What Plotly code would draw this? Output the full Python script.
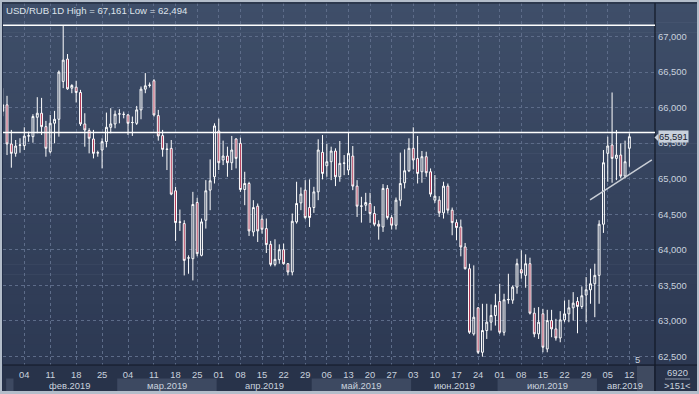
import plotly.graph_objects as go

# ---------------- data ----------------
opens = [65950, 66040, 65489, 65357, 65470, 65465, 65600, 65592, 65865, 65922,
         65733, 65380, 65781, 65837, 66370, 66685, 66275, 66289, 66214, 65771,
         65677, 65560, 65362, 65404, 65522, 65724, 65771, 65910, 65908, 65898,
         65790, 65780, 65969, 66261, 66313, 66379, 65889, 65607, 65418, 65427,
         64830, 64392, 64368, 63883, 63874, 64665, 63921, 64415, 64839, 65027,
         65672, 65263, 65319, 65225, 65560, 65498, 64848, 64933, 64251, 64613,
         64430, 64298, 64076, 63794, 63860, 64001, 63803, 63686, 64392, 64660,
         64839, 64594, 64594, 64815, 65371, 65183, 65239, 65390, 65027, 65216,
         65122, 65319, 64896, 64613, 64627, 64651, 64510, 64359, 64321, 64863,
         64453, 64345, 64698, 64943, 65112, 65428, 65286, 65098, 65310, 65098,
         64698, 64698, 64519, 64896, 64557, 64382, 64321, 64039, 63733, 62815,
         63182, 62556, 62862, 62980, 63074, 63271, 62838, 63295, 63290, 63474,
         63719, 63639, 63803, 63107, 62815, 63098, 62603, 63003, 62885, 62758,
         63012, 63097, 63182, 63272, 63201, 63362, 63436, 63521, 63639, 64359,
         65357, 65475, 65286, 65333, 65037, 65428]
highs = [66275, 66167, 65687, 65545, 65570, 65724, 65663, 65908, 66148, 66138,
         65814, 65898, 65955, 66524, 67161, 66755, 66331, 66379, 66251, 65922,
         65710, 65687, 65395, 65569, 65931, 65993, 65960, 65979, 65945, 65912,
         65875, 66025, 66298, 66487, 66355, 66402, 65969, 65687, 65498, 65545,
         64886, 64566, 64415, 63921, 64815, 64731, 64439, 64980, 65272, 65780,
         65846, 65536, 65451, 65602, 65569, 65578, 65098, 64957, 64698, 64651,
         64486, 64439, 64124, 64147, 64076, 64086, 63813, 64510, 64957, 64877,
         64980, 64990, 64886, 65555, 65616, 65489, 65451, 65428, 65531, 65333,
         65649, 65460, 64980, 64745, 64801, 64801, 64613, 64415, 64924, 64910,
         64486, 64735, 65367, 65413, 65569, 65724, 65602, 65390, 65380, 65145,
         65051, 64754, 64957, 64933, 64594, 64425, 64425, 64095, 63803, 63780,
         63192, 63239, 63239, 63229, 63380, 63521, 63380, 63662, 63498, 63874,
         63992, 63935, 63888, 63182, 63192, 63168, 63154, 63154, 63027, 63135,
         63286, 63295, 63403, 63333, 63483, 63615, 63733, 63803, 64415, 65404,
         65592, 66214, 65686, 65498, 65536, 65640]
lows = [65880, 65333, 65155, 65310, 65365, 65404, 65520, 65507, 65640, 65616,
        65310, 65357, 65498, 65592, 66275, 66251, 66204, 66073, 65743, 65451,
        65357, 65286, 65310, 65145, 65442, 65640, 65710, 65780, 65850, 65616,
        65602, 65757, 65837, 66204, 66284, 65875, 65536, 65310, 65122, 64768,
        64124, 64265, 63638, 63662, 63568, 63907, 63907, 64298, 64557, 64933,
        65122, 65192, 65027, 65122, 65145, 64815, 64627, 64194, 64189, 64109,
        64227, 63954, 63766, 63766, 63803, 63789, 63639, 63639, 64368, 64557,
        64430, 64321, 64519, 64698, 64990, 65027, 64980, 64896, 64957, 65050,
        65051, 64839, 64462, 64382, 64547, 64378, 64331, 64142, 64251, 64425,
        64284, 64284, 64613, 64863, 65093, 65131, 64933, 64943, 65027, 64745,
        64660, 64462, 64439, 64509, 64204, 64133, 63907, 63720, 62815, 62791,
        62532, 62494, 62744, 62862, 62932, 62815, 62791, 63239, 63239, 63380,
        63592, 63465, 63088, 62768, 62744, 62556, 62556, 62768, 62720, 62697,
        62979, 62979, 63003, 62824, 63168, 62980, 63239, 63050, 63239, 64237,
        64957, 64943, 64980, 65004, 65004, 65169]
closes = [66040, 65489, 65357, 65460, 65475, 65600, 65605, 65875, 65922, 65733,
          65428, 65781, 65837, 66501, 66670, 66265, 66313, 66214, 65771, 65686,
          65569, 65357, 65366, 65522, 65724, 65771, 65908, 65913, 65905, 65780,
          65792, 65969, 66261, 66308, 66318, 65898, 65602, 65413, 65413, 64783,
          64382, 64387, 63850, 63885, 64637, 63945, 64392, 64830, 64971, 65743,
          65225, 65319, 65225, 65404, 65286, 64848, 64933, 64265, 64594, 64265,
          64288, 64072, 63794, 63864, 64001, 63803, 63686, 64401, 64651, 64783,
          64453, 64453, 64815, 65404, 65074, 65239, 65390, 65027, 65216, 65220,
          65357, 64896, 64613, 64615, 64665, 64510, 64359, 64331, 64863, 64453,
          64345, 64698, 64933, 65112, 65428, 65263, 65074, 65310, 65084, 64783,
          64754, 64519, 64896, 64557, 64382, 64312, 64039, 63733, 62838, 63050,
          62556, 62862, 62980, 63074, 63215, 62838, 63295, 63300, 63474, 63803,
          63672, 63803, 63107, 62815, 62980, 62627, 63003, 62885, 62758, 63012,
          63097, 63182, 63248, 63201, 63352, 63436, 63521, 63639, 64359, 65225,
          65461, 65286, 65333, 65037, 65239, 65591]

# weekly tick positions (bar index of each Monday) and their labels
tick_index = [5, 11, 17, 23, 29, 35, 40, 45, 50, 55, 60, 65, 70, 75, 80, 85,
              90, 95, 100, 105, 110, 115, 120, 125, 130, 135, 140, 145]
tick_labels = ["04", "11", "18", "25", "04", "11", "18", "25", "01", "08",
               "15", "22", "29", "06", "13", "20", "27", "03", "10", "17",
               "24", "01", "08", "15", "22", "29", "05", "12"]

month_labels = ["фев.2019", "мар.2019", "апр.2019", "май.2019",
                "июн.2019", "июл.2019", "авг.2019"]
month_label_x = [15.5, 38, 60.5, 83, 104.5, 126, 144]
month_bounds = [-1, 2.5, 26.5, 49.5, 71.5, 94.5, 114.5, 137.5, 152]

price_ticks = [62500, 63000, 63500, 64000, 64500, 65000, 65500, 66000, 66500, 67000]
price_tick_labels = ["62,500", "63,000", "63,500", "64,000", "64,500",
                     "65,000", "65,500", "66,000", "66,500", "67,000"]

high_value = 67161
low_value = 62494
resistance_level = 65650
last_price = 65591
trend_x = [135.9, 150.2]
trend_y = [64701, 65264]

title_text = "USD/RUB 1D High = 67,161 Low = 62,494"

# ---------------- figure ----------------
W, H = 699, 394
ML, MR, MT, MB = 3, 44, 3, 29
PW, PH = W - ML - MR, H - MT - MB


def fx(px):
    return (px - ML) / PW


def fy(py):
    return (H - MB - py) / PH


FONT = "Liberation Sans, Arial, sans-serif"
TXT = "#c9d2de"

fig = go.Figure()
fig.add_trace(go.Candlestick(
    x=list(range(len(opens))), open=opens, high=highs, low=lows, close=closes,
    increasing=dict(line=dict(color="#ffffff", width=1), fillcolor="rgba(0,0,0,0)"),
    decreasing=dict(line=dict(color="#ffffff", width=1), fillcolor="#a81f40"),
    whiskerwidth=0, showlegend=False, hoverinfo="skip",
))

shapes = []
# background gradient (plot area + right price scale)
top_c = (62, 78, 105)
bot_c = (45, 57, 83)
n = 36
y_top, y_bot = 2, H - MB
for i in range(n):
    t = i / (n - 1)
    c = tuple(round(top_c[k] + (bot_c[k] - top_c[k]) * t) for k in range(3))
    a = y_top + (y_bot - y_top) * i / n
    b = y_top + (y_bot - y_top) * (i + 1) / n
    shapes.append(dict(type="rect", xref="paper", yref="paper", layer="below",
                       x0=fx(2), x1=fx(697), y0=fy(b + 0.6), y1=fy(a),
                       fillcolor="rgb(%d,%d,%d)" % c, line=dict(width=0)))
# bottom time strip
shapes.append(dict(type="rect", xref="paper", yref="paper", layer="below",
                   x0=fx(2), x1=fx(697), y0=fy(391), y1=fy(H - MB),
                   fillcolor="#28334a", line=dict(width=0)))
# alternating month bands
for i in range(len(month_bounds) - 1):
    if i % 2 == 0:
        shapes.append(dict(type="rect", xref="x", yref="paper", layer="below",
                           x0=max(month_bounds[i], 0.8), x1=min(month_bounds[i + 1], 150.9),
                           y0=fy(391), y1=fy(378.5),
                           fillcolor="#3d4961", line=dict(width=0)))
# small scroll marker at bottom right
shapes.append(dict(type="rect", xref="paper", yref="paper", layer="below",
                   x0=fx(637), x1=fx(654), y0=fy(391), y1=fy(366),
                   fillcolor="rgba(90,102,125,0.45)", line=dict(width=0)))
# frame lines
shapes.append(dict(type="line", xref="paper", yref="paper", x0=fx(655), x1=fx(655),
                   y0=fy(391), y1=fy(3), line=dict(color="#121826", width=1.2)))
shapes.append(dict(type="line", xref="paper", yref="paper", x0=fx(2), x1=fx(697),
                   y0=fy(365), y1=fy(365), line=dict(color="#121826", width=1.2)))
shapes.append(dict(type="line", xref="paper", yref="paper", x0=fx(2), x1=fx(697),
                   y0=fy(3), y1=fy(3), line=dict(color="#1a2233", width=1.2)))
shapes.append(dict(type="line", xref="paper", yref="paper", x0=fx(2.5), x1=fx(2.5),
                   y0=fy(391), y1=fy(3), line=dict(color="#24304a", width=1)))
shapes.append(dict(type="line", xref="paper", yref="paper", x0=fx(665), x1=fx(690),
                   y0=fy(379), y1=fy(379), line=dict(color="#8a96a8", width=1)))
# horizontal levels
for lvl in (high_value, resistance_level):
    shapes.append(dict(type="line", xref="paper", yref="y", x0=0, x1=1, y0=lvl, y1=lvl,
                       line=dict(color="#ffffff", width=1.5)))
# trend line
shapes.append(dict(type="line", xref="x", yref="y", x0=trend_x[0], x1=trend_x[1],
                   y0=trend_y[0], y1=trend_y[1], line=dict(color="#c9ced6", width=1.5)))
# price pointer triangle
shapes.append(dict(type="path", xref="paper", yref="paper",
                   path="M %f %f L %f %f L %f %f Z" % (fx(654.5), fy(137.5), fx(658.5), fy(133.5),
                                                        fx(658.5), fy(141.5)),
                   fillcolor="#c9d1dc", line=dict(width=0)))

annotations = []
annotations.append(dict(text=title_text, xref="paper", yref="paper", x=fx(4), y=fy(10.5),
                        xanchor="left", yanchor="middle", showarrow=False,
                        font=dict(family=FONT, size=9.6, color="#dde3eb")))
for lab, xm in zip(month_labels, month_label_x):
    annotations.append(dict(text=lab, xref="x", yref="paper", x=xm, y=fy(385),
                            xanchor="center", yanchor="middle", showarrow=False,
                            font=dict(family=FONT, size=9.4, color=TXT)))
annotations.append(dict(text="%s" % f"{last_price:,}", xref="paper", yref="y", x=fx(658), y=last_price,
                        xanchor="left", yanchor="middle", showarrow=False,
                        bgcolor="#c9d1dc", borderpad=0,
                        font=dict(family=FONT, size=9.4, color="#18202c")))
annotations.append(dict(text="5", xref="paper", yref="paper", x=fx(637.5), y=fy(359.5),
                        xanchor="center", yanchor="middle", showarrow=False,
                        font=dict(family=FONT, size=9.4, color=TXT)))
annotations.append(dict(text="6920", xref="paper", yref="paper", x=fx(677.5), y=fy(372.5),
                        xanchor="center", yanchor="middle", showarrow=False,
                        font=dict(family=FONT, size=9.4, color=TXT)))
annotations.append(dict(text="&gt;151&lt;", xref="paper", yref="paper", x=fx(678), y=fy(385),
                        xanchor="center", yanchor="middle", showarrow=False,
                        font=dict(family=FONT, size=9.4, color=TXT)))

fig.update_layout(
    width=W, height=H, margin=dict(l=ML, r=MR, t=MT, b=MB, pad=0),
    paper_bgcolor="#b3bdca", plot_bgcolor="rgba(0,0,0,0)",
    showlegend=False, boxgap=0.38,
    shapes=shapes, annotations=annotations,
    font=dict(family=FONT, size=9.4, color=TXT),
    xaxis=dict(range=[0.07, 150.93], tickmode="array", tickvals=tick_index, ticktext=tick_labels,
               showgrid=True, gridcolor="#5d6c89", gridwidth=1, griddash="dot",
               zeroline=False, showline=False, ticks="", rangeslider=dict(visible=False),
               ticklabelstandoff=3,
               tickfont=dict(family=FONT, size=9.4, color=TXT), fixedrange=True),
    yaxis=dict(range=[62377, 67474], side="right", tickmode="array", tickvals=price_ticks,
               ticktext=price_tick_labels, showgrid=True, gridcolor="#5d6c89", gridwidth=1,
               griddash="dot", zeroline=False, showline=False, ticks="",
               ticklabelstandoff=2,
               tickfont=dict(family=FONT, size=9.4, color=TXT), fixedrange=True),
)

fig.write_html("out.html", config={"displayModeBar": False},
               post_script="document.body.style.margin='0';document.body.style.padding='0';")
